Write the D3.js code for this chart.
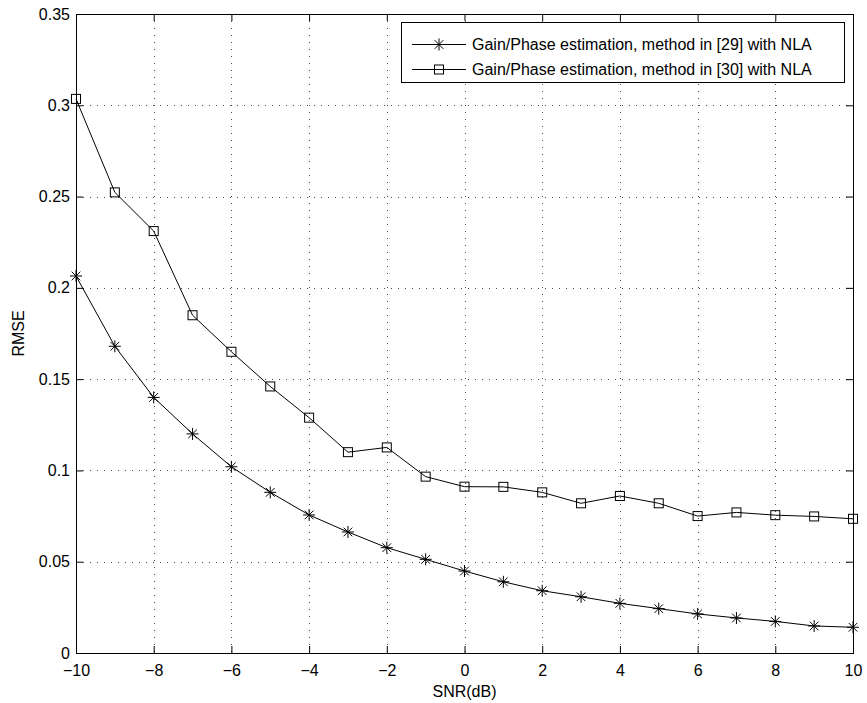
<!doctype html>
<html>
<head>
<script src="https://cdnjs.cloudflare.com/ajax/libs/d3/7.8.5/d3.min.js"></script>
<style>
body { margin: 0; background: #fff; }
svg { font-family: "Liberation Sans", Arial, Helvetica, sans-serif; }
.grid line { stroke: #000; stroke-width: 1; stroke-dasharray: 1,6; opacity: 0.7; }
</style>
</head>
<body>
<svg id="chart" width="867" height="703"></svg>
<script>
var snr = [-10, -9, -8, -7, -6, -5, -4, -3, -2, -1, 0, 1, 2, 3, 4, 5, 6, 7, 8, 9, 10];
var rmse29 = [0.2065, 0.168, 0.140, 0.120, 0.102, 0.088, 0.0756, 0.0663, 0.0577, 0.0513, 0.0449,
              0.039, 0.0341, 0.0308, 0.0272, 0.0243, 0.0214, 0.0192, 0.0173, 0.0148, 0.0141];
var rmse30 = [0.3035, 0.2523, 0.2311, 0.185, 0.165, 0.146, 0.1289, 0.110, 0.1126, 0.0966, 0.0911,
              0.091, 0.088, 0.082, 0.086, 0.082, 0.075, 0.077, 0.0755, 0.0748, 0.0735];
var xTicks = [-10, -8, -6, -4, -2, 0, 2, 4, 6, 8, 10];
var yTicks = [0, 0.05, 0.1, 0.15, 0.2, 0.25, 0.3, 0.35];
var seriesNames = ["Gain/Phase estimation, method in [29] with NLA",
                   "Gain/Phase estimation, method in [30] with NLA"];

var svg = d3.select("#chart");
var pL = 76, pR = 853, pT = 14, pB = 653;

var x = d3.scaleLinear().domain([-10, 10]).range([pL, pR]);
var y = d3.scaleLinear().domain([0, 0.35]).range([pB, pT]);

// grid
var grid = svg.append("g").attr("class", "grid");
grid.selectAll("line.v").data(xTicks.slice(1, -1)).enter().append("line")
  .attr("x1", d => Math.round(x(d)) + 0.5).attr("x2", d => Math.round(x(d)) + 0.5)
  .attr("y1", pT).attr("y2", pB);
grid.selectAll("line.h").data(yTicks.slice(1, -1)).enter().append("line")
  .attr("y1", d => Math.round(y(d)) + 0.5).attr("y2", d => Math.round(y(d)) + 0.5)
  .attr("x1", pL).attr("x2", pR);

// axes with inward ticks
function styleAxis(g) {
  g.select(".domain").remove();
  g.selectAll(".tick line").attr("stroke", "#000");
  g.selectAll(".tick text").attr("fill", "#000").style("font-size", "16px");
}
svg.append("g").attr("transform", "translate(0," + pB + ")")
  .call(d3.axisBottom(x).tickValues(xTicks).tickSizeInner(-7).tickSizeOuter(0).tickPadding(12)
    .tickFormat(d => d < 0 ? "\u2212" + Math.abs(d) : d))
  .call(styleAxis);
svg.append("g").attr("transform", "translate(0," + pT + ")")
  .call(d3.axisTop(x).tickValues(xTicks).tickSizeInner(-7).tickSizeOuter(0).tickFormat(""))
  .call(styleAxis);
svg.append("g").attr("transform", "translate(" + pL + ",0)")
  .call(d3.axisLeft(y).tickValues(yTicks).tickSizeInner(-7).tickSizeOuter(0).tickPadding(6)
    .tickFormat(d => String(+d.toFixed(2))))
  .call(styleAxis);
svg.append("g").attr("transform", "translate(" + pR + ",0)")
  .call(d3.axisRight(y).tickValues(yTicks).tickSizeInner(-7).tickSizeOuter(0).tickFormat(""))
  .call(styleAxis);

svg.append("rect")
  .attr("x", pL + 0.5).attr("y", pT + 0.5)
  .attr("width", pR - pL).attr("height", pB - pT)
  .attr("fill", "none").attr("stroke", "#000").attr("stroke-width", 1);

// lines
var line = d3.line().x((d, i) => x(snr[i])).y(d => y(d));
[rmse29, rmse30].forEach(function(s) {
  svg.append("path").datum(s).attr("d", line)
    .attr("fill", "none").attr("stroke", "#000").attr("stroke-width", 1);
});

function starPath(r) {
  var d = r * 0.72;
  return "M" + (-r) + ",0L" + r + ",0M0," + (-r) + "L0," + r +
         "M" + (-d) + "," + (-d) + "L" + d + "," + d +
         "M" + (-d) + "," + d + "L" + d + "," + (-d);
}

svg.append("g").selectAll("path").data(rmse29).enter().append("path")
  .attr("transform", (d, i) => "translate(" + x(snr[i]) + "," + y(d) + ")")
  .attr("d", starPath(6))
  .attr("stroke", "#000").attr("stroke-width", 1).attr("fill", "none");

svg.append("g").selectAll("rect").data(rmse30).enter().append("rect")
  .attr("x", (d, i) => x(snr[i]) - 4.5).attr("y", d => y(d) - 4.5)
  .attr("width", 9).attr("height", 9)
  .attr("stroke", "#000").attr("stroke-width", 1).attr("fill", "none");

// axis labels
svg.append("text").attr("x", (pL + pR) / 2).attr("y", 697)
  .attr("text-anchor", "middle").style("font-size", "16px").text("SNR(dB)");
svg.append("text").attr("transform", "translate(24," + ((pT + pB) / 2) + ") rotate(-90)")
  .attr("text-anchor", "middle").style("font-size", "16px").text("RMSE");

// legend
var lg = svg.append("g");
lg.append("rect").attr("x", 401.5).attr("y", 22.5).attr("width", 443).attr("height", 60)
  .attr("fill", "#fff").attr("stroke", "#000").attr("stroke-width", 1);
var rows = [44, 69];
rows.forEach(function(ry, k) {
  lg.append("line").attr("x1", 412).attr("x2", 466).attr("y1", ry + 0.5).attr("y2", ry + 0.5)
    .attr("stroke", "#000");
  if (k === 0) {
    lg.append("path").attr("transform", "translate(439," + (ry + 0.5) + ")")
      .attr("d", starPath(6)).attr("stroke", "#000").attr("fill", "none");
  } else {
    lg.append("rect").attr("x", 434.5).attr("y", ry - 4).attr("width", 9).attr("height", 9)
      .attr("stroke", "#000").attr("fill", "none");
  }
  lg.append("text").attr("x", 472).attr("y", ry + 6).style("font-size", "16px").text(seriesNames[k]);
});
</script>
</body>
</html>
